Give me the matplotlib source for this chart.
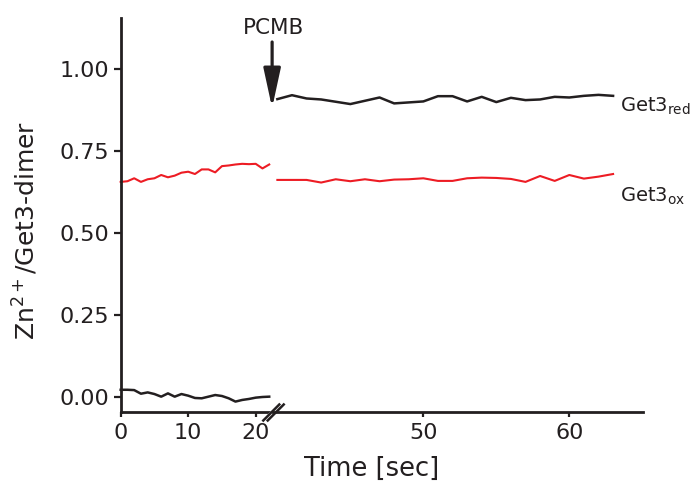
import numpy as np
import matplotlib
matplotlib.use("Agg")
import matplotlib.pyplot as plt
from matplotlib.path import Path

plt.rcParams['font.family'] = ['DejaVu Sans']
plt.rcParams['mathtext.fontset'] = 'dejavusans'

ink = '#231f20'
red = '#ed1c24'

# before PCMB addition (sec 0-22)
timeBefore = list(range(0, 23))
redBefore = [0.655, 0.657, 0.666, 0.655, 0.663, 0.666, 0.676, 0.669, 0.674, 0.683, 0.686, 0.679,
             0.693, 0.693, 0.684, 0.703, 0.705, 0.708, 0.710, 0.709, 0.710, 0.696, 0.708]
oxBefore = [0.022, 0.022, 0.021, 0.010, 0.014, 0.009, 0.001, 0.011, 0.001, 0.009, 0.004, -0.003,
            -0.004, 0.001, 0.006, 0.003, -0.004, -0.014, -0.009, -0.006, -0.002, 0.000, 0.001]

# after PCMB addition (sec 40-63)
timeAfter = list(range(40, 64))
blackAfter = [0.907, 0.919, 0.909, 0.906, 0.899, 0.892, 0.902, 0.912, 0.894, 0.897, 0.900, 0.916,
              0.916, 0.900, 0.914, 0.898, 0.911, 0.904, 0.906, 0.914, 0.912, 0.917, 0.920, 0.917]
redAfter = [0.661, 0.661, 0.661, 0.653, 0.663, 0.657, 0.663, 0.657, 0.662, 0.663, 0.666, 0.658,
            0.658, 0.666, 0.668, 0.667, 0.664, 0.655, 0.673, 0.658, 0.676, 0.665, 0.671, 0.679]

yTicks = [0.0, 0.25, 0.5, 0.75, 1.0]
yTickLabels = ['0.00', '0.25', '0.50', '0.75', '1.00']
leftTicks = [0, 10, 20]
rightTicks = [50, 60]

fig = plt.figure(figsize=(6.92, 4.87), dpi=100)
axL = fig.add_axes([0.1744, 0.154, 0.2201, 0.809])
axR = fig.add_axes([0.3945, 0.154, 0.5347, 0.809])

ylim = (-0.0457, 1.154)
for ax in (axL, axR):
    ax.set_ylim(*ylim)
    ax.spines['top'].set_visible(False)
    ax.spines['right'].set_visible(False)
    ax.spines['bottom'].set_linewidth(2)
    ax.spines['left'].set_linewidth(2)
    ax.spines['bottom'].set_color(ink)
    ax.spines['left'].set_color(ink)
    ax.patch.set_alpha(0)
    ax.tick_params(axis='x', direction='out', length=3.6, width=1.6, colors=ink,
                   labelsize=16, pad=4)

axL.set_xlim(0, 22.56)
axR.set_xlim(39.7, 65.05)
axL.set_xticks(leftTicks)
axR.set_xticks(rightTicks)

axL.set_yticks(yTicks)
axL.set_yticklabels(yTickLabels)
axL.tick_params(axis='y', direction='out', length=5, width=1.6, colors=ink, labelsize=16, pad=3)
axR.spines['left'].set_visible(False)
axR.set_yticks([])

axL.plot(timeBefore, redBefore, color=red, lw=1.5, clip_on=False)
axL.plot(timeBefore, oxBefore, color=ink, lw=1.8, clip_on=False)
axR.plot(timeAfter, blackAfter, color=ink, lw=1.8, clip_on=False)
axR.plot(timeAfter, redAfter, color=red, lw=1.5, clip_on=False)

axR.text(63.47, 0.868, 'Get3$_{\\mathrm{red}}$', fontsize=14, color=ink, va='baseline', ha='left')
axR.text(63.47, 0.594, 'Get3$_{\\mathrm{ox}}$', fontsize=14, color=ink, va='baseline', ha='left')

# PCMB arrow
axR.annotate('', xy=(39.64, 0.880), xytext=(39.64, 1.081), annotation_clip=False,
             arrowprops=dict(arrowstyle='-|>,head_length=1.2,head_width=0.26', mutation_scale=20,
                             color=ink, lw=2.3, shrinkA=0, shrinkB=0))
axR.text(39.75, 1.125, 'PCMB', fontsize=15.5, color=ink, ha='center', va='center', clip_on=False)

# axis break marks: white gap then two close slashes
gap = Path([(-1.0, -1), (1.0, 1)], [Path.MOVETO, Path.LINETO])
axL.plot([1], [0], transform=axL.transAxes, marker=gap, markersize=13, markeredgewidth=4,
         color='white', clip_on=False, zorder=4)
slash = Path([(-1.25, -1), (0.75, 1), (-0.75, -1), (1.25, 1)],
             [Path.MOVETO, Path.LINETO, Path.MOVETO, Path.LINETO])
axL.plot([1], [0], transform=axL.transAxes, marker=slash, markersize=16, markeredgewidth=1.8,
         color=ink, clip_on=False, zorder=5)

fig.text(372 / 692, 0.037, 'Time [sec]', fontsize=18.5, color=ink, ha='center', va='center')
fig.text(26 / 692, 0.526, 'Zn$^{2+}$/Get3-dimer', fontsize=18, color=ink, ha='center', va='center',
         rotation=90)

fig.savefig('out.png', dpi=100)
